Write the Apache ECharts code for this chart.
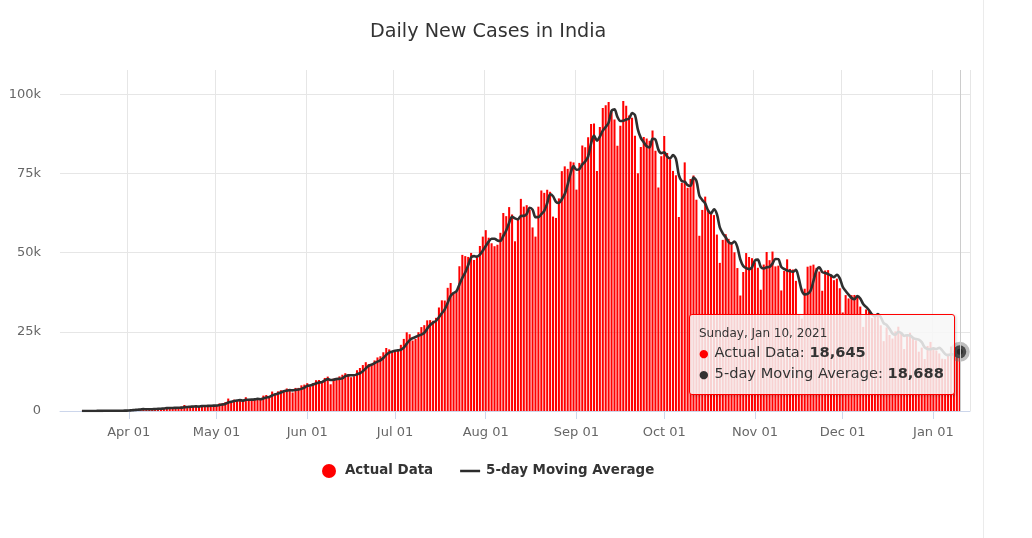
<!DOCTYPE html>
<html>
<head>
<meta charset="utf-8">
<script src="https://cdn.jsdelivr.net/npm/echarts@6/dist/echarts.min.js"></script>
<style>
  html, body { margin: 0; padding: 0; background: #fff; }
  #chart { position: absolute; left: 0; top: 0; width: 982px; height: 538px; }
  #edge { position: absolute; left: 983px; top: 0; width: 1px; height: 538px; background: #ebebeb; }
</style>
</head>
<body>
<div id="chart"></div>
<div id="edge"></div>
<script>
// ---- Data (daily new cases, India) ----
const axisStart = '2020-03-09';   // first category on the x axis
const axisEnd = '2021-01-13';     // last category on the x axis
const dataStart = '2020-03-16';   // first day with data

const casesMar = [20, 6, 23, 14, 38, 50, 86, 66, 103, 37, 121, 70, 160, 100, 37, 227];
const casesApr = [146, 601, 545, 516, 529, 701, 489, 533, 605, 809, 873, 848, 759, 1248, 1034, 835, 1108, 922, 1370, 1893, 924, 1541, 1290, 1707, 1453, 1753, 1607, 1561, 1873, 1738];
const casesMay = [1801, 2394, 2442, 2806, 3932, 2963, 3587, 3364, 3344, 3113, 4353, 3607, 3524, 3763, 3942, 3787, 4864, 5050, 4630, 6147, 5553, 6198, 6568, 6629, 7113, 6414, 5843, 7293, 7300, 8105, 8336];
const casesJun = [8782, 7761, 8821, 9728, 9794, 9471, 10438, 10864, 8442, 10218, 10459, 10930, 11458, 11929, 11502, 10667, 10974, 12881, 13586, 14516, 15413, 14821, 14933, 15968, 16922, 17296, 18552, 19906, 19459, 18522];
const casesJul = [18653, 19148, 20903, 22771, 24850, 24248, 22252, 22752, 24879, 26506, 27114, 28637, 28701, 28498, 29429, 32695, 34956, 34884, 38902, 40425, 37148, 37724, 45720, 49310, 48916, 48661, 49931, 47703, 48513, 52123, 55078];
const casesAug = [57118, 54735, 52972, 52050, 52509, 56282, 62538, 61537, 64399, 62064, 53601, 60963, 66999, 64553, 65002, 63490, 57981, 55079, 64531, 69652, 68898, 69878, 69239, 61408, 60975, 67151, 75760, 77266, 76472, 78761, 78512];
const casesSep = [69921, 78357, 83883, 83341, 86432, 90632, 90802, 75809, 89706, 95735, 96551, 97570, 94372, 92071, 83809, 90123, 97894, 96424, 93337, 92605, 86961, 75083, 83347, 86508, 86052, 85362, 88600, 82170, 70589, 80472];
const casesOct = [86821, 81484, 79476, 75829, 74442, 61267, 72049, 78524, 70496, 73272, 74383, 66732, 55342, 63509, 67708, 63371, 62212, 61871, 55722, 46790, 54044, 55839, 54366, 53370, 50129, 45148, 36470, 43893, 49881, 48648, 48268];
const casesNov = [46963, 45231, 38310, 46253, 50210, 47638, 50356, 45674, 45903, 38073, 44281, 47905, 44879, 44684, 41100, 30548, 29163, 38617, 45576, 45882, 46232, 45209, 44059, 37975, 44376, 44489, 43082, 41322, 41810, 38772];
const casesDec = [31118, 36604, 35551, 36595, 36652, 36011, 32981, 26567, 32080, 31521, 29398, 30006, 30254, 27071, 22065, 26382, 24010, 22890, 25152, 26624, 24337, 19556, 23950, 24712, 23067, 22273, 18732, 20021, 16432, 20549, 21822];
const casesJan = [20035, 19079, 18177, 16504, 16375, 18088, 20346, 18139, 18222, 18645];

const yTicks = [0, 25000, 50000, 75000, 100000];
const monthNames = ['Jan', 'Feb', 'Mar', 'Apr', 'May', 'Jun', 'Jul', 'Aug', 'Sep', 'Oct', 'Nov', 'Dec'];
const dayNames = ['Sunday', 'Monday', 'Tuesday', 'Wednesday', 'Thursday', 'Friday', 'Saturday'];
const highlightDate = '2021-01-10';

// ---- Build categories and aligned series ----
const DAY = 86400000;
const toStr = t => new Date(t).toISOString().slice(0, 10);
const categories = [];
for (let t = Date.parse(axisStart + 'T00:00:00Z'); t <= Date.parse(axisEnd + 'T00:00:00Z'); t += DAY) {
  categories.push(toStr(t));
}
const actual = [].concat(casesMar, casesApr, casesMay, casesJun, casesJul, casesAug, casesSep, casesOct, casesNov, casesDec, casesJan);
const offset = categories.indexOf(dataStart);
const barData = categories.map((c, i) => {
  const k = i - offset;
  return (k >= 0 && k < actual.length) ? actual[k] : null;
});
// 5-day (trailing) moving average of the actual data, as the chart's series is defined
const maData = categories.map((c, i) => {
  const k = i - offset;
  if (k < 0 || k >= actual.length) return null;
  const win = actual.slice(Math.max(0, k - 4), k + 1);
  return Math.round(win.reduce((a, b) => a + b, 0) / win.length);
});

const isMonthStart = (idx, val) => String(val).slice(8, 10) === '01';

const chart = echarts.init(document.getElementById('chart'), null, { renderer: 'canvas' });

const option = {
  animation: false,
  textStyle: { fontFamily: 'DejaVu Sans' },
  title: {
    text: 'Daily New Cases in India',
    left: 365,
    top: 18,
    textStyle: { fontFamily: 'DejaVu Sans', fontSize: 19.2, fontWeight: 'normal', color: '#333333' }
  },
  legend: {
    top: 459,
    left: 317,
    itemWidth: 20,
    itemHeight: 14,
    itemGap: 27,
    selectedMode: false,
    data: [
      { name: 'Actual Data', icon: 'circle' },
      { name: '5-day Moving Average', icon: 'path://M0,0H20V2.5H0Z' }
    ],
    textStyle: { fontFamily: 'DejaVu Sans', fontSize: 13.4, fontWeight: 'bold', color: '#333333', padding: [0, 0, 0, 1] }
  },
  grid: { left: 60, right: 12, top: 70, bottom: 127, containLabel: false },
  tooltip: {
    trigger: 'axis',
    triggerOn: 'none',
    alwaysShowContent: true,
    transitionDuration: 0,
    position: [689, 314],
    backgroundColor: 'rgba(247,247,247,0.85)',
    borderColor: '#ff0000',
    borderWidth: 1,
    borderRadius: 3,
    padding: [9, 10, 10, 9],
    extraCssText: 'box-shadow: 1px 1px 3px rgba(0,0,0,0.18);',
    axisPointer: { type: 'line', animation: false, lineStyle: { color: '#cccccc', width: 1, type: 'solid' } },
    formatter: function (params) {
      const d = new Date(params[0].axisValue + 'T00:00:00Z');
      const head = dayNames[d.getUTCDay()] + ', ' + monthNames[d.getUTCMonth()] + ' ' + d.getUTCDate() + ', ' + d.getUTCFullYear();
      let html = '<div style="font-family:DejaVu Sans;font-size:12px;line-height:18px;color:#333">' + head + '</div>';
      params.forEach(p => {
        if (p.value == null) return;
        const col = p.seriesIndex === 0 ? '#ff0000' : '#333333';
        html += '<div style="font-family:DejaVu Sans;font-size:14.6px;line-height:19px;color:#333;white-space:nowrap">' +
          '<span style="color:' + col + ';font-size:11px;margin-right:6px">\u25CF</span>' +
          p.seriesName + ': <b>' + Number(p.value).toLocaleString('en-US') + '</b></div>';
      });
      return html;
    }
  },
  xAxis: {
    type: 'category',
    data: categories,
    boundaryGap: true,
    axisLine: { lineStyle: { color: '#ccd6eb', width: 1 } },
    axisTick: { show: true, interval: isMonthStart, alignWithLabel: true, length: 8, lineStyle: { color: '#ccd6eb' } },
    axisLabel: {
      interval: isMonthStart,
      margin: 15,
      color: '#666666',
      fontSize: 13,
      fontFamily: 'DejaVu Sans',
      formatter: v => monthNames[parseInt(v.slice(5, 7), 10) - 1] + ' ' + v.slice(8, 10)
    },
    splitLine: { show: true, interval: isMonthStart, lineStyle: { color: '#e6e6e6', width: 1 } }
  },
  yAxis: {
    type: 'value',
    min: 0,
    max: 107700,
    interval: 25000,
    axisLine: { show: false },
    axisTick: { show: false },
    axisLabel: {
      margin: 19,
      color: '#666666',
      fontSize: 13,
      fontFamily: 'DejaVu Sans',
      formatter: v => yTicks.indexOf(v) === -1 ? '' : (v === 0 ? '0' : (v / 1000) + 'k')
    },
    splitLine: {
      show: true,
      lineStyle: { color: ['#e6e6e6', '#e6e6e6', '#e6e6e6', '#e6e6e6', '#e6e6e6', 'rgba(0,0,0,0)'], width: 1 }
    }
  },
  series: [
    {
      name: 'Actual Data',
      type: 'bar',
      data: barData,
      barCategoryGap: '30%',
      itemStyle: { color: '#ff0000' },
      emphasis: { disabled: true }
    },
    {
      name: '5-day Moving Average',
      type: 'line',
      data: maData,
      smooth: 0.3,
      showSymbol: false,
      symbol: 'circle',
      symbolSize: 13,
      connectNulls: false,
      lineStyle: { color: '#2b2b2b', width: 2.6 },
      itemStyle: { color: '#2b2b2b' },
      emphasis: {
        scale: false,
        lineStyle: { width: 2.6 },
        itemStyle: { color: '#2b2b2b', borderColor: 'rgba(110,110,110,0.45)', borderWidth: 7 }
      },
      z: 3
    }
  ]
};

chart.setOption(option);
chart.dispatchAction({ type: 'showTip', seriesIndex: 1, dataIndex: categories.indexOf(highlightDate) });
</script>
</body>
</html>
